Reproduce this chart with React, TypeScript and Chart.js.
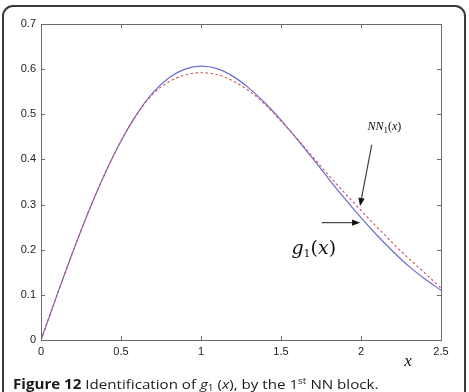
import React, { useEffect, useRef } from "react";
import { Chart, registerables } from "chart.js";

Chart.register(...registerables);

const xValues = [0, 0.1, 0.2, 0.3, 0.4, 0.5, 0.6, 0.7, 0.8, 0.9, 1.0, 1.1, 1.2, 1.3, 1.4, 1.5, 1.6, 1.7, 1.8, 1.9, 2.0, 2.1, 2.2, 2.3, 2.4, 2.5];
const g1Values = [0, 0.0995, 0.196, 0.287, 0.369, 0.441, 0.501, 0.548, 0.581, 0.6, 0.6065, 0.601, 0.584, 0.558, 0.525, 0.487, 0.445, 0.401, 0.356, 0.3125, 0.271, 0.232, 0.196, 0.163, 0.135, 0.11];
const nn1Values = [0, 0.0995, 0.196, 0.287, 0.369, 0.441, 0.5, 0.545, 0.572, 0.587, 0.592, 0.588, 0.574, 0.552, 0.522, 0.485, 0.446, 0.405, 0.364, 0.325, 0.287, 0.25, 0.214, 0.18, 0.148, 0.115];
const xTicks = [0, 0.5, 1, 1.5, 2, 2.5];
const yTicks = [0, 0.1, 0.2, 0.3, 0.4, 0.5, 0.6, 0.7];

function drawArrow(ctx: CanvasRenderingContext2D, x1: number, y1: number, x2: number, y2: number) {
  const ang = Math.atan2(y2 - y1, x2 - x1);
  const head = 8;
  const hw = 3.2;
  const bx = x2 - head * Math.cos(ang);
  const by = y2 - head * Math.sin(ang);
  ctx.save();
  ctx.strokeStyle = "#444";
  ctx.lineWidth = 1.2;
  ctx.beginPath();
  ctx.moveTo(x1, y1);
  ctx.lineTo(bx, by);
  ctx.stroke();
  ctx.fillStyle = "#111";
  ctx.beginPath();
  ctx.moveTo(x2, y2);
  ctx.lineTo(bx + hw * Math.sin(ang), by - hw * Math.cos(ang));
  ctx.lineTo(bx - hw * Math.sin(ang), by + hw * Math.cos(ang));
  ctx.closePath();
  ctx.fill();
  ctx.restore();
}

function drawParts(ctx: CanvasRenderingContext2D, parts: { t: string; font: string; dy: number }[], x: number, y: number) {
  let cx = x;
  for (const p of parts) {
    ctx.font = p.font;
    ctx.fillText(p.t, cx, y + p.dy);
    cx += ctx.measureText(p.t).width;
  }
}

const framePlugin = {
  id: "framePlugin",
  afterDraw(chart: any) {
    const { ctx, chartArea: a, scales } = chart;
    const xs = scales.x;
    const ys = scales.y;
    ctx.save();
    ctx.strokeStyle = "#6b6b6b";
    ctx.lineWidth = 1;
    ctx.strokeRect(Math.round(a.left) + 0.5, Math.round(a.top) + 0.5, Math.round(a.right - a.left), Math.round(a.bottom - a.top));
    const tl = 4;
    ctx.beginPath();
    for (const v of xTicks.slice(1, -1)) {
      const px = Math.round(xs.getPixelForValue(v)) + 0.5;
      ctx.moveTo(px, a.bottom);
      ctx.lineTo(px, a.bottom - tl);
      ctx.moveTo(px, a.top);
      ctx.lineTo(px, a.top + tl);
    }
    for (const v of yTicks.slice(1, -1)) {
      const py = Math.round(ys.getPixelForValue(v)) + 0.5;
      ctx.moveTo(a.left, py);
      ctx.lineTo(a.left + tl, py);
      ctx.moveTo(a.right, py);
      ctx.lineTo(a.right - tl, py);
    }
    ctx.stroke();

    // annotations
    ctx.fillStyle = "#111";
    ctx.textBaseline = "alphabetic";
    ctx.textAlign = "left";
    const nnx = xs.getPixelForValue(2.04);
    const nny = ys.getPixelForValue(0.466);
    drawParts(ctx, [
      { t: "NN", font: "italic 12px 'Liberation Serif'", dy: 0 },
      { t: "1", font: "9px 'Liberation Serif'", dy: 3 },
      { t: "(", font: "12px 'Liberation Serif'", dy: 0 },
      { t: "x", font: "italic 12px 'Liberation Serif'", dy: 0 },
      { t: ")", font: "12px 'Liberation Serif'", dy: 0 },
    ], nnx, nny);

    drawArrow(ctx, xs.getPixelForValue(2.067), ys.getPixelForValue(0.432), xs.getPixelForValue(1.994), ys.getPixelForValue(0.297));
    drawArrow(ctx, xs.getPixelForValue(1.754), ys.getPixelForValue(0.26), xs.getPixelForValue(1.994), ys.getPixelForValue(0.26));

    const gx = xs.getPixelForValue(1.565);
    const gy = ys.getPixelForValue(0.19);
    drawParts(ctx, [
      { t: "g", font: "italic 19px 'DejaVu Serif'", dy: 0 },
      { t: "1", font: "11px 'DejaVu Serif'", dy: 3 },
      { t: "(", font: "19px 'DejaVu Serif'", dy: 0 },
      { t: "x", font: "italic 19px 'DejaVu Serif'", dy: 0 },
      { t: ")", font: "19px 'DejaVu Serif'", dy: 0 },
    ], gx, gy);

    ctx.font = "italic 17px 'Liberation Serif'";
    ctx.textAlign = "center";
    ctx.fillText("x", xs.getPixelForValue(2.294), a.bottom + 26);
    ctx.restore();
  },
};

export default function App() {
  const ref = useRef<HTMLCanvasElement | null>(null);
  useEffect(() => {
    if (!ref.current) return;
    const chart = new Chart(ref.current, {
      type: "line",
      data: {
        datasets: [
          {
            label: "NN1(x)",
            data: xValues.map((x, i) => ({ x, y: nn1Values[i] })),
            borderColor: "#d0504f",
            borderWidth: 1.1,
            borderDash: [2.5, 2.5],
            pointRadius: 0,
            cubicInterpolationMode: "monotone",
          },
          {
            label: "g1(x)",
            data: xValues.map((x, i) => ({ x, y: g1Values[i] })),
            borderColor: "#6c6cd4",
            borderWidth: 1.2,
            pointRadius: 0,
            cubicInterpolationMode: "monotone",
          },
        ],
      },
      options: {
        animation: false,
        responsive: false,
        layout: { padding: { left: 0, right: 28, top: 24, bottom: 0 } },
        plugins: { legend: { display: false }, tooltip: { enabled: false } },
        scales: {
          x: {
            type: "linear",
            min: 0,
            max: 2.5,
            afterBuildTicks: (s: any) => { s.ticks = xTicks.map((v) => ({ value: v })); },
            afterFit: (s: any) => { s.height = 52; },
            ticks: {
              padding: 5,
              maxRotation: 0,
              color: "#222",
              font: { family: "'Liberation Sans', Arial", size: 11 },
              callback: (v: any) => String(v),
            },
            grid: { display: false, drawTicks: false },
            border: { display: false },
          },
          y: {
            type: "linear",
            min: 0,
            max: 0.7,
            afterBuildTicks: (s: any) => { s.ticks = yTicks.map((v) => ({ value: v })); },
            afterFit: (s: any) => { s.width = 41; },
            ticks: {
              padding: 5,
              color: "#222",
              font: { family: "'Liberation Sans', Arial", size: 11 },
              callback: (v: any) => String(Math.round(v * 10) / 10),
            },
            grid: { display: false, drawTicks: false },
            border: { display: false },
          },
        },
      },
      plugins: [framePlugin],
    } as any);
    return () => chart.destroy();
  }, []);

  return (
    <div style={{ position: "fixed", left: 0, top: 0, width: 469, height: 392, overflow: "hidden", background: "#fff" }}>
      <div
        style={{
          position: "absolute",
          left: 2,
          top: 5,
          width: 460,
          height: 420,
          border: "2px solid #3a3a3a",
          borderRadius: 11,
          boxSizing: "content-box",
        }}
      />
      <canvas ref={ref} width={469} height={392} style={{ position: "absolute", left: 0, top: 0, width: 469, height: 392 }} />
      <div
        style={{
          position: "absolute",
          left: 13,
          top: 376,
          fontFamily: "'Open Sans', sans-serif",
          fontSize: 13.5,
          fontWeight: 500,
          color: "#1a1a1a",
          whiteSpace: "nowrap",
          lineHeight: "16px",
          transform: "scaleX(1.12)",
          transformOrigin: "left top",
        }}
      >
        <span style={{ fontWeight: 700 }}>Figure 12</span> Identification of <i>g</i>
        <sub style={{ fontSize: 9, verticalAlign: "-2px", lineHeight: 0 }}>1</sub> (<i>x</i>), by the 1
        <sup style={{ fontSize: 9, verticalAlign: "5px", lineHeight: 0 }}>st</sup> NN block.
      </div>
    </div>
  );
}
